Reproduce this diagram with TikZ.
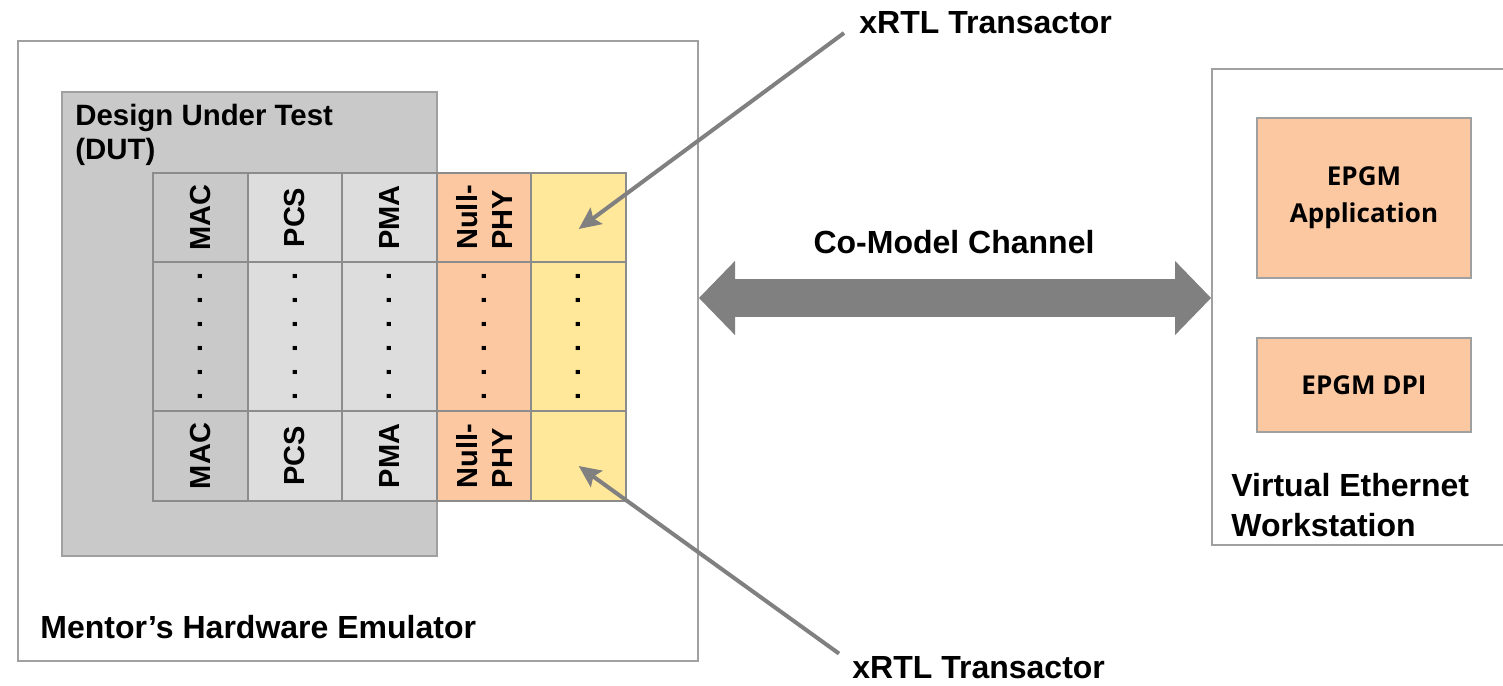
\documentclass[tikz,border=0pt]{standalone}
\usepackage{fontspec}
\setmainfont{Liberation Sans}
\newfontfamily\epgmfont{Open Sans}
\usetikzlibrary{arrows.meta}

\definecolor{boxedge}{HTML}{A0A0A0}
\definecolor{celledge}{HTML}{8C8C8C}
\definecolor{dutgray}{HTML}{C9C9C9}
\definecolor{laygray}{HTML}{DDDDDD}
\definecolor{phypeach}{HTML}{FCC8A2}
\definecolor{xtryellow}{HTML}{FFE89A}
\definecolor{arrowgray}{HTML}{808080}

\newcommand\dotrow{.\kern8pt.\kern8pt.\kern8pt.\kern8pt.\kern8pt.}

\tikzset{
	box/.style = {draw=boxedge, line width=1pt, anchor=north west, inner sep=0pt},
	cell/.style = {draw=celledge, line width=1pt, anchor=north west, inner sep=0pt, minimum width=47.3pt},
	lbl/.style = {inner sep=0pt, font=\bfseries\fontsize{16}{20}\selectfont},
	layer/.style = {rotate=90, inner sep=0pt, align=left, font=\bfseries\fontsize{14.5}{17.5}\selectfont},
	pointer/.style = {draw=arrowgray, line width=2pt, -{Stealth[length=11pt, width=10pt, inset=2pt]}},
	channel/.style = {draw=arrowgray, line width=19pt,
		{Triangle[length=18pt, width=37pt, line width=0.5pt]}-{Triangle[length=18pt, width=37pt, line width=0.5pt]}},
	epgm/.style = {box, fill=phypeach, minimum width=107pt, align=center,
		font=\epgmfont\bfseries\fontsize{13}{18.5}\selectfont},
}

\begin{document}
\begin{tikzpicture}[x=0.5pt, y=-0.5pt]
	\useasboundingbox (0,0) rectangle (1503,685);

	% emulator side
	\node[box, minimum width=340pt, minimum height=310pt] (emu) at (17,40) {};
	\node[box, fill=dutgray, minimum width=187.5pt, minimum height=232pt] (dut) at (61,91) {};
	\node[lbl, anchor=north west, align=left, font=\bfseries\fontsize{14.7}{17}\selectfont] (dutlbl) at (75,104)
		{Design Under Test\\(DUT)};
	\node[lbl, anchor=base west] (emulbl) at (40,638) {Mentor’s Hardware Emulator};

	% layer stack (top, middle, bottom rows)
	\foreach \nm/\clr/\txt [count=\i from 0] in {%
		mac/dutgray/MAC, pcs/laygray/PCS, pma/laygray/PMA,
		phy/phypeach/{Null-\\PHY}, xtr/xtryellow/{}%
	}{
		\node[cell, fill=\clr, minimum height=44.5pt] (\nm-top) at ({152+94.6*\i},172) {};
		\node[cell, fill=\clr, minimum height=74.5pt] (\nm-mid) at ({152+94.6*\i},261) {};
		\node[cell, fill=\clr, minimum height=45pt] (\nm-bot) at ({152+94.6*\i},410) {};
		\node[layer] at (\nm-top.center) {\txt};
		\node[layer] at (\nm-mid.center) {\dotrow};
		\node[layer] at (\nm-bot.center) {\txt};
	}

	% workstation side
	\node[box, minimum width=149.5pt, minimum height=238pt] (ws) at (1211,68) {};
	\node[epgm, minimum height=80pt] (app) at (1256,117) {EPGM\\Application};
	\node[epgm, minimum height=47pt] (dpi) at (1256,337) {EPGM DPI};
	\node[lbl, anchor=north west, align=left] (wslbl) at (1231,473) {Virtual Ethernet\\Workstation};

	% co-model channel
	\node[lbl, anchor=base] (chlbl) at (954,253) {Co-Model Channel};
	\draw[channel] (emu.east |- 0,298) -- (ws.west |- 0,298);

	% transactor callouts
	\node[lbl, anchor=base west] (xtop) at (859,33) {xRTL Transactor};
	\node[lbl, anchor=base west] (xbot) at (852,678) {xRTL Transactor};
	\draw[pointer] ([xshift=-7.5pt]xtop.base west) -- ([yshift=-5.75pt]xtr-top.center);
	\draw[pointer] ([xshift=-6.5pt, yshift=1pt]xbot.north west) -- ([yshift=-5pt]xtr-bot.center);

\end{tikzpicture}
\end{document}
